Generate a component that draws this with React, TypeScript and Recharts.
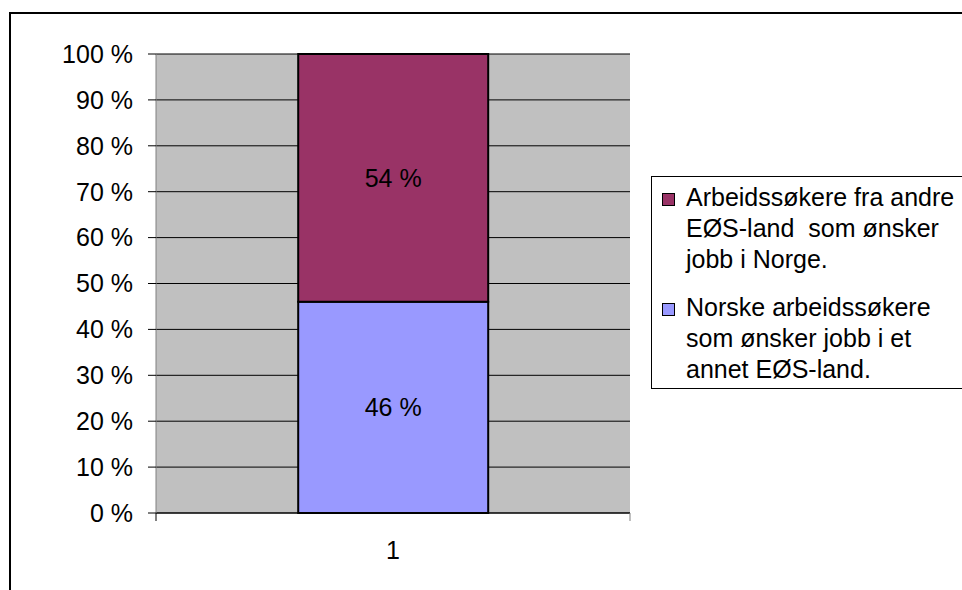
import React from 'react';
import { BarChart, Bar, XAxis, YAxis, CartesianGrid, LabelList } from 'recharts';

const categories = ['1'];
const norskeShare = [46];
const eosShare = [54];
const yTicks = [0, 10, 20, 30, 40, 50, 60, 70, 80, 90, 100];

const eosName = 'Arbeidssøkere fra andre EØS-land  som ønsker jobb i Norge.';
const norskeName = 'Norske arbeidssøkere som ønsker jobb i et annet EØS-land.';

const EOS_COLOR = '#993366';
const NORSKE_COLOR = '#9999FF';
const FONT = '"Liberation Sans", Arial, sans-serif';
const FONT_SIZE = 25;
const X_TICK_SIZE = 8;
const X_TICK_MARGIN = 20;

const data = categories.map((name, i) => ({
  name,
  norske: norskeShare[i],
  eos: eosShare[i],
}));

const legendItems = [
  { label: eosName, color: EOS_COLOR },
  { label: norskeName, color: NORSKE_COLOR },
];

const pct = (v: any) => `${v} %`;

// category label, with the tick marks placed on the band edges instead of the centre
const CategoryTick = (props: any) => {
  const { x, y, payload, width, visibleTicksCount } = props;
  const axisY = y - X_TICK_SIZE - X_TICK_MARGIN;
  const half = width && visibleTicksCount ? width / visibleTicksCount / 2 : 0;
  return (
    <g>
      {half > 0 && (
        <>
          <line x1={x - half} x2={x - half} y1={axisY} y2={axisY + X_TICK_SIZE} stroke="#000" />
          <line x1={x + half} x2={x + half} y1={axisY} y2={axisY + X_TICK_SIZE} stroke="#808080" />
        </>
      )}
      <text x={x} y={y} dy="0.71em" textAnchor="middle" fill="#000" fontSize={FONT_SIZE} fontFamily={FONT}>
        {payload.value}
      </text>
    </g>
  );
};

const LegendBox: React.FC = () => (
  <div
    style={{
      position: 'absolute',
      left: 651,
      top: 176,
      width: 400,
      height: 213,
      boxSizing: 'border-box',
      border: '1px solid #000',
      background: '#fff',
      paddingTop: 5,
      fontFamily: FONT,
      fontSize: FONT_SIZE,
      lineHeight: '31px',
      color: '#000',
    }}
  >
    {legendItems.map((item, i) => (
      <div key={i} style={{ display: 'flex', marginTop: i === 0 ? 0 : 17 }}>
        <div
          style={{
            width: 13,
            height: 13,
            boxSizing: 'border-box',
            marginTop: 11,
            marginLeft: 10,
            border: '1px solid #000',
            background: item.color,
            flex: 'none',
          }}
        />
        <div style={{ width: 275, marginLeft: 11, whiteSpace: 'pre-wrap' }}>{item.label}</div>
      </div>
    ))}
  </div>
);

export default function App() {
  return (
    <div
      style={{
        position: 'fixed',
        left: 0,
        top: 0,
        width: 962,
        height: 590,
        overflow: 'hidden',
        background: '#fff',
      }}
    >
      <div
        style={{
          position: 'absolute',
          left: 9,
          top: 12,
          width: 1000,
          height: 700,
          boxSizing: 'border-box',
          border: '2px solid #000',
        }}
      />
      <div style={{ position: 'absolute', left: 0, top: 0 }}>
        <BarChart
          width={962}
          height={590}
          data={data}
          margin={{ top: 54, right: 332, left: 0, bottom: 17 }}
          barCategoryGap="30%"
          style={{ fontFamily: FONT }}
        >
          <CartesianGrid vertical={false} stroke="#000" fill="#C0C0C0" fillOpacity={1} />
          <XAxis
            dataKey="name"
            height={60}
            tickLine={false}
            tickSize={X_TICK_SIZE}
            tickMargin={X_TICK_MARGIN}
            axisLine={{ stroke: '#000' }}
            tick={<CategoryTick />}
          />
          <YAxis
            width={156}
            domain={[0, 100]}
            ticks={yTicks}
            interval={0}
            tickFormatter={pct}
            tickSize={8}
            tickMargin={15}
            tickLine={{ stroke: '#000' }}
            axisLine={{ stroke: '#808080' }}
            tick={{ fill: '#000', fontSize: FONT_SIZE, fontFamily: FONT }}
          />
          {/* right-hand frame of the plot area */}
          <YAxis
            yAxisId="frame"
            orientation="right"
            width={0}
            domain={[0, 100]}
            tick={false}
            tickLine={false}
            axisLine={{ stroke: '#808080', strokeWidth: 2 }}
          />
          <Bar dataKey="norske" stackId="a" fill={NORSKE_COLOR} stroke="#000" strokeWidth={2} isAnimationActive={false}>
            <LabelList dataKey="norske" position="center" formatter={pct} fill="#000" fontSize={FONT_SIZE} fontFamily={FONT} />
          </Bar>
          <Bar dataKey="eos" stackId="a" fill={EOS_COLOR} stroke="#000" strokeWidth={2} isAnimationActive={false}>
            <LabelList dataKey="eos" position="center" formatter={pct} fill="#000" fontSize={FONT_SIZE} fontFamily={FONT} />
          </Bar>
        </BarChart>
      </div>
      <LegendBox />
    </div>
  );
}
